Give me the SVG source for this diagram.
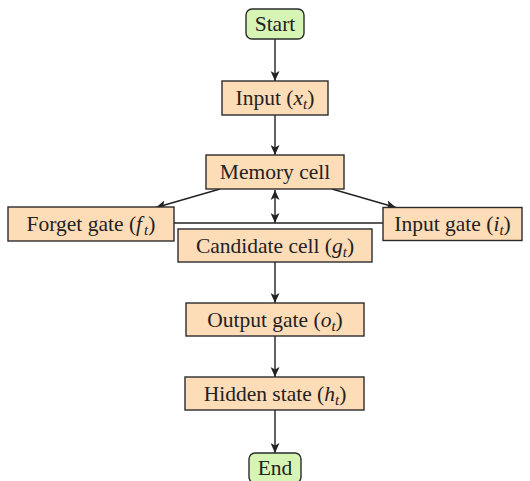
<svg xmlns="http://www.w3.org/2000/svg" width="530" height="481" viewBox="0 0 530 481">
  <style>
    .box { fill: #fddcb8; stroke: #2b2b2b; stroke-width: 1.4; }
    .term { fill: #d6f5b4; stroke: #2b2b2b; stroke-width: 1.4; }
    .lbl { font-family: "Liberation Serif", "DejaVu Serif", serif; font-size: 21.5px; fill: #222; text-anchor: middle; }
    .it { font-style: italic; }
    .sub { font-style: italic; font-size: 15px; }
    .edge { stroke: #222; stroke-width: 1.4; fill: none; }
  </style>
  <defs>
    <marker id="arrow" viewBox="0 0 10 10" refX="10" refY="5" markerWidth="10" markerHeight="9" markerUnits="userSpaceOnUse" orient="auto-start-reverse" preserveAspectRatio="none">
      <path d="M0,0 L10,5 L0,10 L2.5,5 Z" fill="#222"/>
    </marker>
  </defs>
  <rect width="530" height="481" fill="#ffffff"/>

  <!-- flow connectors -->
  <g id="connectors">
    <line class="edge" x1="275" y1="39" x2="275" y2="81" marker-end="url(#arrow)"/>
    <line class="edge" x1="275" y1="115" x2="275" y2="155" marker-end="url(#arrow)"/>
    <line class="edge" x1="220" y1="189" x2="156" y2="207.5" marker-end="url(#arrow)"/>
    <line class="edge" x1="332" y1="189" x2="396" y2="207.5" marker-end="url(#arrow)"/>
    <line class="edge" x1="174" y1="223" x2="383" y2="223"/>
    <line class="edge" x1="275" y1="190" x2="275" y2="223" marker-start="url(#arrow)" marker-end="url(#arrow)"/>
    <line class="edge" x1="275" y1="262" x2="275" y2="303" marker-end="url(#arrow)"/>
    <line class="edge" x1="275" y1="336" x2="275" y2="377" marker-end="url(#arrow)"/>
    <line class="edge" x1="275" y1="410" x2="275" y2="453" marker-end="url(#arrow)"/>
  </g>

  <g id="start">
    <rect class="term" x="246" y="9" width="58" height="30" rx="6"/>
    <text class="lbl" x="275" y="31">Start</text>
  </g>
  <g id="input">
    <rect class="box" x="222" y="81" width="106" height="34"/>
    <text class="lbl" x="275" y="105">Input (<tspan class="it">x</tspan><tspan class="sub" dy="4">t</tspan><tspan dy="-4">)</tspan></text>
  </g>
  <g id="memory-cell">
    <rect class="box" x="206" y="155" width="138" height="34"/>
    <text class="lbl" x="275" y="179">Memory cell</text>
  </g>
  <g id="forget-gate">
    <rect class="box" x="8" y="207" width="166" height="34"/>
    <text class="lbl" x="91" y="231">Forget gate (<tspan class="it">f</tspan><tspan class="sub" dy="4" dx="2">t</tspan><tspan dy="-4">)</tspan></text>
  </g>
  <g id="input-gate">
    <rect class="box" x="383" y="207.5" width="139" height="33"/>
    <text class="lbl" x="452.5" y="231">Input gate (<tspan class="it">i</tspan><tspan class="sub" dy="4">t</tspan><tspan dy="-4">)</tspan></text>
  </g>
  <g id="candidate-cell">
    <rect class="box" x="178" y="229" width="194" height="33"/>
    <text class="lbl" x="275" y="253">Candidate cell (<tspan class="it">g</tspan><tspan class="sub" dy="4">t</tspan><tspan dy="-4">)</tspan></text>
  </g>
  <g id="output-gate">
    <rect class="box" x="186" y="303" width="178" height="33"/>
    <text class="lbl" x="275" y="327">Output gate (<tspan class="it">o</tspan><tspan class="sub" dy="4">t</tspan><tspan dy="-4">)</tspan></text>
  </g>
  <g id="hidden-state">
    <rect class="box" x="185" y="377" width="179" height="33"/>
    <text class="lbl" x="275" y="401">Hidden state (<tspan class="it">h</tspan><tspan class="sub" dy="4">t</tspan><tspan dy="-4">)</tspan></text>
  </g>
  <g id="end">
    <rect class="term" x="249" y="453" width="52" height="30" rx="6"/>
    <text class="lbl" x="275" y="475">End</text>
  </g>
</svg>
